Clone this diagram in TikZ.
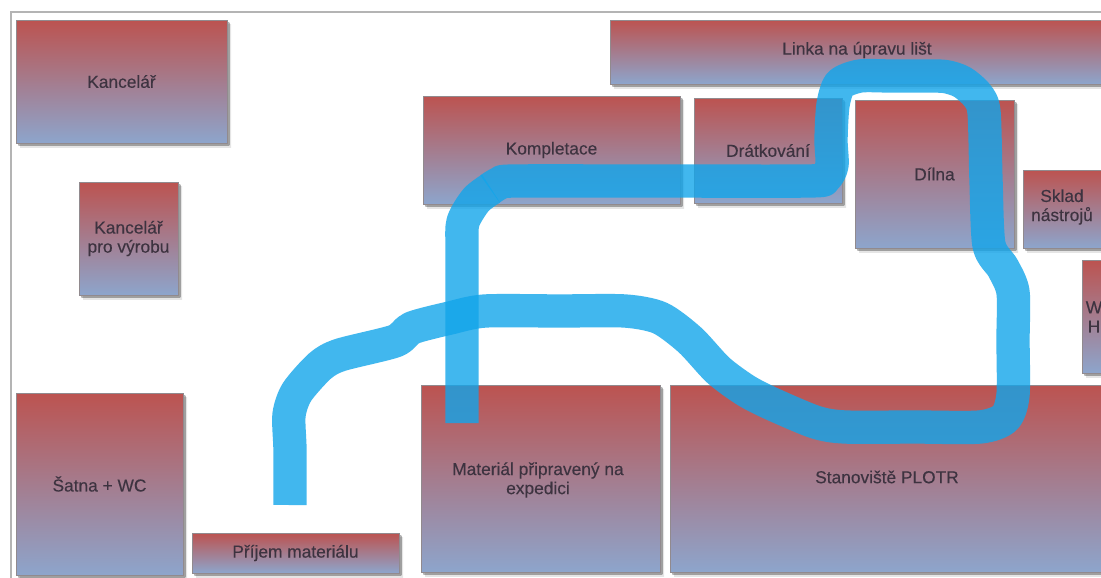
\documentclass[tikz,border=0pt]{standalone}
\usepackage{fontspec}
\setmainfont{Liberation Sans}
\newfontfamily\roomfont[FakeBold=0.25]{Liberation Sans}
\definecolor{boxtop}{HTML}{BC5350}
\definecolor{boxbot}{HTML}{8DA5CC}
\definecolor{boxedge}{HTML}{918A8E}
\definecolor{boxtext}{HTML}{3D3340}
\definecolor{routeblue}{HTML}{12A5EA}
\definecolor{framegray}{HTML}{B4B4B4}
\tikzset{
  x=0.75pt,y=-0.75pt,
  roomtext/.style={text=boxtext,align=center,font=\roomfont\fontsize{13}{14.3}\selectfont},
  room/.style={rectangle,inner sep=0pt,outer sep=0pt,anchor=north west,top color=boxtop,bottom color=boxbot,
    draw=boxedge,line width=0.6pt,roomtext,
    preaction={draw=none,top color=black,bottom color=black,opacity=0.10,transform canvas={shift={(3pt,-3pt)}}},
    preaction={draw=none,top color=black,bottom color=black,opacity=0.30,transform canvas={shift={(1.8pt,-1.8pt)}}}},
  route/.style={draw=routeblue,line width=25pt,draw opacity=0.8,line join=round}
}
\newcommand{\room}[6]{\node[room,minimum width=#4*0.75pt,minimum height=#5*0.75pt] (#1) at (#2,#3) {#6};}
\begin{document}
\begin{tikzpicture}
\useasboundingbox (0,0) rectangle (1101,578);
\clip (0,0) rectangle (1101,578);
\fill[white] (0,0) rectangle (1101,578);
\draw[framegray,line width=1.5pt] (1110,12) -- (11,12) -- (11,590);
\room{kanc}{16}{20}{211}{123}{Kancelář}
\room{vyroba}{79}{182}{99}{113}{Kancelář\\pro výrobu}
\room{satna}{16}{393}{167}{182}{Šatna + WC}
\room{prijem}{192}{533}{207}{40}{Příjem materiálu}
\room{expedice}{421}{385}{239}{187}{}
\node[roomtext] (expedicelabel) at (538,480) {Materiál připravený na\\expedici};
\room{plotr}{670}{385}{436}{187}{}
\node[roomtext] (plotrlabel) at (887,477) {Stanoviště PLOTR};
\room{kompl}{423}{96}{257}{108}{Kompletace}
\room{drat}{694}{98}{148}{105}{Drátkování}
\room{linka}{610}{20}{496}{64}{}
\node[roomtext] (linkalabel) at (857,50) {Linka na úpravu lišt};
\room{dilna}{855}{100}{159}{148}{Dílna}
\room{sklad}{1023}{170}{90}{78}{}
\node[roomtext] (skladlabel) at (1062,207) {Sklad\\nástrojů};
\room{wh}{1082}{260}{40}{113}{}
\node[roomtext] (whlabel) at (1094,317) {W\\H};
% route
\draw[route] plot[smooth,tension=0.45] coordinates {(290,505) (290,450) (289,415) (297,392) (320,366) (340,355) (395,341) (412,328) (450,318) (485,311) (560,311) (625,311) (660,318) (690,340) (718,370) (745,390) (770,403) (815,422) (845,427) (915,427) (980,427) (1005,418) (1013,395) (1013,340) (1013,292) (1003,268) (989,245) (986,180) (984,112) (977,95) (962,82) (945,76.5) (920,76) (890,76) (860,76) (840,84) (833,105) (831,140) (832,165) (825,178) (808,181) (650,181) (515,181) (500,183) (490,189)};
\draw[route] plot[smooth,tension=0.45] coordinates {(491,188.5) (476,200) (463,222) (462,250) (462,340) (462,423)};
\end{tikzpicture}
\end{document}
